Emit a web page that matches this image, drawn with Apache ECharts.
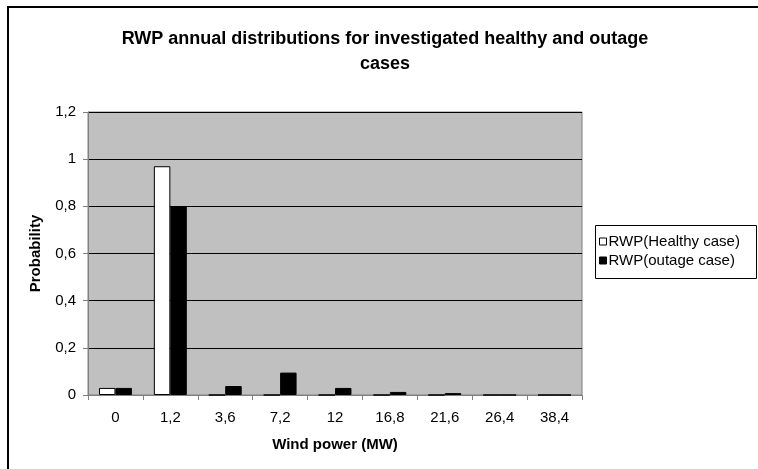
<!DOCTYPE html>
<html>
<head>
<meta charset="utf-8">
<script src="https://cdn.jsdelivr.net/npm/echarts@6/dist/echarts.min.js"></script>
<style>
html,body{margin:0;padding:0;background:#fff;}
#c{width:758px;height:469px;}
</style>
</head>
<body>
<div id="c"></div>
<script>
const categories = ['0', '1,2', '3,6', '7,2', '12', '16,8', '21,6', '26,4', '38,4'];
const healthy = [0.03, 0.97, 0, 0, 0, 0, 0, 0, 0];
const outage = [0.03, 0.80, 0.038, 0.095, 0.03, 0.013, 0.008, 0, 0];
const yTicks = { min: 0, max: 1.2, interval: 0.2 };

const FONT = '"Liberation Sans", Arial, sans-serif';
const chart = echarts.init(document.getElementById('c'), null, { renderer: 'canvas' });
chart.setOption({
  backgroundColor: '#fff',
  animation: false,
  textStyle: { fontFamily: FONT },
  title: {
    text: 'RWP annual distributions for investigated healthy and outage\ncases',
    left: 385, top: 27, textAlign: 'center', padding: 0,
    textStyle: { fontFamily: FONT, fontSize: 18, fontWeight: 'bold', color: '#000', lineHeight: 25 }
  },
  graphic: [
    {
      type: 'rect', shape: { x: 8, y: 7, width: 800, height: 500 },
      style: { fill: null, stroke: '#000', lineWidth: 2 }, silent: true, z: 100
    },
    {
      type: 'rect', shape: { x: 595.5, y: 225.5, width: 161, height: 53 },
      style: { fill: '#fff', stroke: '#000', lineWidth: 1 }, silent: true, z: -1
    }
  ],
  legend: {
    orient: 'vertical', left: 599, top: 234,
    itemWidth: 7, itemHeight: 7, itemGap: 4,
    padding: 0,
    textStyle: { fontFamily: FONT, fontSize: 15, color: '#000', padding: [0, 0, 0, -3] },
    data: [
      { name: 'RWP(Healthy case)', icon: 'rect', itemStyle: { color: '#fff', borderColor: '#000', borderWidth: 1 } },
      { name: 'RWP(outage case)', icon: 'rect', itemStyle: { color: '#000', borderColor: '#000', borderWidth: 1 } }
    ]
  },
  grid: {
    left: 88, top: 112, width: 494, height: 283,
    show: true, backgroundColor: '#c0c0c0', borderColor: '#808080', borderWidth: 1
  },
  xAxis: {
    type: 'category', data: categories, boundaryGap: true,
    name: 'Wind power (MW)', nameLocation: 'middle', nameGap: 42,
    nameTextStyle: { fontFamily: FONT, fontSize: 15, fontWeight: 'bold', color: '#000' },
    axisLine: { lineStyle: { color: '#808080', width: 1 } },
    axisTick: { show: true, inside: false, length: 5, alignWithLabel: false, lineStyle: { color: '#808080' } },
    axisLabel: { fontFamily: FONT, fontSize: 15, color: '#000', margin: 15 },
    splitLine: { show: false }
  },
  yAxis: {
    type: 'value', min: yTicks.min, max: yTicks.max, interval: yTicks.interval,
    name: 'Probability', nameLocation: 'middle', nameGap: 45, nameRotate: 90,
    nameTextStyle: { fontFamily: FONT, fontSize: 15, fontWeight: 'bold', color: '#000' },
    axisLine: { show: true, lineStyle: { color: '#808080', width: 1 } },
    axisTick: { show: true, inside: false, length: 5, lineStyle: { color: '#808080' } },
    axisLabel: {
      fontFamily: FONT, fontSize: 15, color: '#000', margin: 12,
      formatter: v => String(Math.round(v * 10) / 10).replace('.', ',')
    },
    splitLine: { show: true, lineStyle: { color: '#000', width: 1 } }
  },
  series: [
    {
      name: 'RWP(Healthy case)', type: 'bar', data: healthy,
      barGap: '0%', barCategoryGap: '40%',
      itemStyle: { color: '#fff', borderColor: '#000', borderWidth: 1 }
    },
    {
      name: 'RWP(outage case)', type: 'bar', data: outage,
      barGap: '0%', barCategoryGap: '40%',
      itemStyle: { color: '#000', borderColor: '#000', borderWidth: 1 }
    }
  ]
});
</script>
</body>
</html>
